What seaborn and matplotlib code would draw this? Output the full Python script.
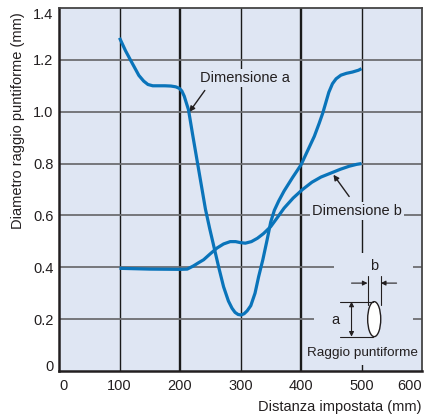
import numpy as np
import pandas as pd
import seaborn as sns
import matplotlib.pyplot as plt
from matplotlib.patches import Ellipse, Polygon

# curve "Dimensione a" (distance mm, spot diameter mm)
dist_a = [100, 105, 110, 118, 125, 132, 140, 147, 155, 165, 175, 185, 193, 199, 203,
          207, 211, 214, 221, 228, 235, 242, 249, 256, 264, 272, 280, 286, 291, 296,
          301, 306, 311, 317, 324, 330, 337, 344, 350, 356, 363, 372, 386, 400, 411,
          422, 430, 436, 441, 446, 452, 458, 466, 475, 485, 495, 500]
diam_a = [1.285, 1.26, 1.235, 1.20, 1.17, 1.14, 1.118, 1.105, 1.10, 1.10, 1.10, 1.099,
          1.096, 1.09, 1.08, 1.06, 1.03, 1.008, 0.91, 0.815, 0.72, 0.625, 0.55, 0.48,
          0.40, 0.325, 0.27, 0.242, 0.226, 0.218, 0.216, 0.221, 0.232, 0.252, 0.30,
          0.364, 0.43, 0.506, 0.575, 0.62, 0.655, 0.694, 0.746, 0.795, 0.85, 0.905,
          0.955, 0.995, 1.035, 1.075, 1.108, 1.127, 1.141, 1.148, 1.153, 1.16, 1.166]

# curve "Dimensione b"
dist_b = [100, 150, 200, 212, 222, 231, 239, 250, 261, 272, 283, 292, 300, 308, 318,
          328, 338, 350, 361, 372, 387, 402, 418, 433, 449, 465, 480, 492, 500]
diam_b = [0.396, 0.393, 0.392, 0.393, 0.405, 0.418, 0.429, 0.452, 0.474, 0.490, 0.499,
          0.499, 0.495, 0.493, 0.499, 0.512, 0.530, 0.557, 0.592, 0.628, 0.667, 0.699,
          0.728, 0.748, 0.763, 0.778, 0.790, 0.797, 0.80]

x_ticks = [0, 100, 200, 300, 400, 500, 600]
y_ticks = [0, 0.2, 0.4, 0.6, 0.8, 1.0, 1.2, 1.4]
y_ticklabels = ['0', '0.2', '0.4', '0.6', '0.8', '1.0', '1.2', '1.4']

df = pd.concat([
    pd.DataFrame({'dist': dist_a, 'diam': diam_a, 'dim': 'a'}),
    pd.DataFrame({'dist': dist_b, 'diam': diam_b, 'dim': 'b'}),
])

sns.set_theme(style='white')
plt.rcParams['font.family'] = ['Liberation Sans', 'DejaVu Sans']

txt = '#231f20'
face = '#dfe6f3'
blue = '#0a74ba'
fs = 10.5

fig = plt.figure(figsize=(4.24, 4.17), dpi=100)
ax = fig.add_axes([59/424, 1 - 371/417, 363/424, 363/417])
ax.set_facecolor(face)

sns.lineplot(data=df, x='dist', y='diam', units='dim', estimator=None,
             color=blue, lw=2.3, ax=ax, zorder=4, solid_capstyle='butt',
             solid_joinstyle='round')

ax.set_xlim(0, 600)
ax.set_ylim(0, 1.4)

# grid
for xv in [100, 300, 500]:
    ax.axvline(xv, color='#1a1a1a', lw=1.0, zorder=1)
for xv in [200, 400]:
    ax.axvline(xv, color='#1a1a1a', lw=1.7, zorder=1)
for yv in y_ticks[1:-1]:
    ax.axhline(yv, color='#6d6e71', lw=1.3, zorder=1)

for s in ['left', 'bottom']:
    ax.spines[s].set_color(txt)
    ax.spines[s].set_linewidth(1.8)
for s in ['top', 'right']:
    ax.spines[s].set_color('#444444')
    ax.spines[s].set_linewidth(1.3)

ax.set_xticks(x_ticks)
ax.set_xticklabels([str(v) for v in x_ticks])
ax.set_yticks(y_ticks)
ax.set_yticklabels(y_ticklabels)
ax.tick_params(length=0, labelsize=fs, labelcolor=txt)
ax.tick_params(axis='x', pad=6)
ax.tick_params(axis='y', pad=4)
xl = ax.get_xticklabels()
xl[0].set_ha('left')
xl[-1].set_ha('right')
yl = ax.get_yticklabels()
yl[0].set_va('baseline')
yl[-1].set_va('top')

ax.set_xlabel('Distanza impostata (mm)', fontsize=fs, color=txt, loc='right', labelpad=5)
ax.set_ylabel('Diametro raggio puntiforme (mm)', fontsize=fs, color=txt)
ax.yaxis.set_label_coords(-0.095, 0.69)

# cover grid behind the inset drawing
cover = Polygon([(454, 0.456), (585, 0.456), (585, 0.023), (421, 0.023),
                 (421, 0.274), (454, 0.274)], closed=True, facecolor=face,
                edgecolor='none', zorder=2)
ax.add_patch(cover)

bb = dict(boxstyle='square,pad=0.15', fc=face, ec='none')
arr = dict(arrowstyle='-|>', color=txt, lw=1.0, mutation_scale=8, shrinkA=0, shrinkB=0)
ax.text(307.5, 1.131, 'Dimensione a', ha='center', va='center', fontsize=fs,
        color=txt, bbox=bb, zorder=3)
ax.annotate('', xy=(215.5, 0.999), xytext=(241, 1.082), arrowprops=arr, zorder=3)
ax.text(492, 0.618, 'Dimensione b', ha='center', va='center', fontsize=fs,
        color=txt, bbox=bb, zorder=3)
ax.annotate('', xy=(453.6, 0.757), xytext=(479.6, 0.673), arrowprops=arr, zorder=3)

# inset: spot drawing
ax.add_patch(Ellipse((521, 0.20), 21.6, 0.135, fc='white', ec=txt, lw=1.0, zorder=5))
thin = dict(color=txt, lw=0.8, zorder=5)
ax.plot([464, 519], [0.2676, 0.2676], **thin)
ax.plot([464, 519], [0.1324, 0.1324], **thin)
dbl = dict(arrowstyle='<|-|>', color=txt, lw=0.8, mutation_scale=7, shrinkA=0, shrinkB=0)
ax.annotate('', xy=(483.5, 0.1324), xytext=(483.5, 0.2676), arrowprops=dbl, zorder=5)
ax.text(457.5, 0.197, 'a', ha='center', va='center', fontsize=fs, color=txt, zorder=5)
ax.plot([510, 510], [0.367, 0.255], **thin)
ax.plot([532, 532], [0.367, 0.255], **thin)
one = dict(arrowstyle='-|>', color=txt, lw=0.8, mutation_scale=7, shrinkA=0, shrinkB=0)
ax.annotate('', xy=(510, 0.339), xytext=(483.5, 0.339), arrowprops=one, zorder=5)
ax.annotate('', xy=(532, 0.339), xytext=(558, 0.339), arrowprops=one, zorder=5)
ax.text(521, 0.405, 'b', ha='center', va='center', fontsize=fs, color=txt, zorder=5)
ax.text(502, 0.068, 'Raggio puntiforme', ha='center', va='center', fontsize=9.7,
        color=txt, zorder=5)

if ax.get_legend():
    ax.get_legend().remove()

fig.savefig('out.png', dpi=100)
